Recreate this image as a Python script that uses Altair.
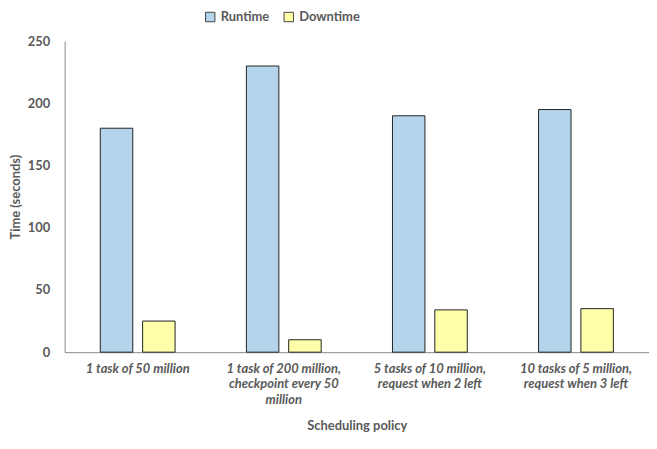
import altair as alt
import pandas as pd

categories = [
    "1 task of 50 million",
    "1 task of 200 million,\ncheckpoint every 50\nmillion",
    "5 tasks of 10 million,\nrequest when 2 left",
    "10 tasks of 5 million,\nrequest when 3 left",
]
series = ["Runtime", "Downtime"]
runtime = [180, 230, 190, 195]
downtime = [25, 10, 34, 35]
colors = ["#B4D4EC", "#FFFFAA"]

rows = []
for c, r, d in zip(categories, runtime, downtime):
    rows.append({"policy": c, "series": "Runtime", "value": r})
    rows.append({"policy": c, "series": "Downtime", "value": d})
df = pd.DataFrame(rows)

FONT = "Lato"
GREY = "#595959"

chart = alt.Chart(df).mark_bar(stroke="#222222", strokeWidth=1).encode(
    x=alt.X(
        "policy:N",
        sort=categories,
        scale=alt.Scale(paddingInner=0.488, paddingOuter=0.244),
        axis=alt.Axis(
            title="Scheduling policy",
            labelAngle=0,
            labelExpr="split(datum.label, '\\n')",
            labelFontStyle="italic",
            labelFontWeight="bold",
            labelFont=FONT,
            labelFontSize=13,
            labelColor=GREY,
            labelLineHeight=16,
            labelPadding=10,
            ticks=False,
            domainColor="#888888",
            titleFont=FONT,
            titleFontSize=13,
            titleFontWeight="bold",
            titleColor=GREY,
            titlePadding=13,
        ),
    ),
    xOffset=alt.XOffset(
        "series:N", sort=series,
        scale=alt.Scale(paddingInner=0.2326, paddingOuter=0),
    ),
    y=alt.Y(
        "value:Q",
        scale=alt.Scale(domain=[0, 250]),
        axis=alt.Axis(
            title="Time (seconds)",
            values=[0, 50, 100, 150, 200, 250],
            grid=False,
            ticks=False,
            labelFont=FONT,
            labelFontSize=13,
            labelFontWeight="bold",
            labelColor=GREY,
            labelPadding=15,
            domainColor="#888888",
            titleFont=FONT,
            titleFontSize=13,
            titleFontWeight="bold",
            titleColor=GREY,
            titlePadding=5,
        ),
    ),
    color=alt.Color(
        "series:N",
        sort=series,
        scale=alt.Scale(domain=series, range=colors),
        legend=alt.Legend(
            title=None,
            orient="none",
            legendX=140,
            legendY=-31,
            direction="horizontal",
            symbolType="square",
            symbolStrokeColor="#444444",
            symbolStrokeWidth=1,
            symbolSize=90,
            labelFont=FONT,
            labelFontSize=13,
            labelFontWeight="bold",
            labelColor=GREY,
            columnPadding=12,
        ),
    ),
).properties(
    width=588, height=313, padding={"left": 1, "top": 1, "right": 0, "bottom": 0}
).configure_view(stroke=None)

chart.save("out.html", embed_options={"renderer": "svg", "actions": False})
